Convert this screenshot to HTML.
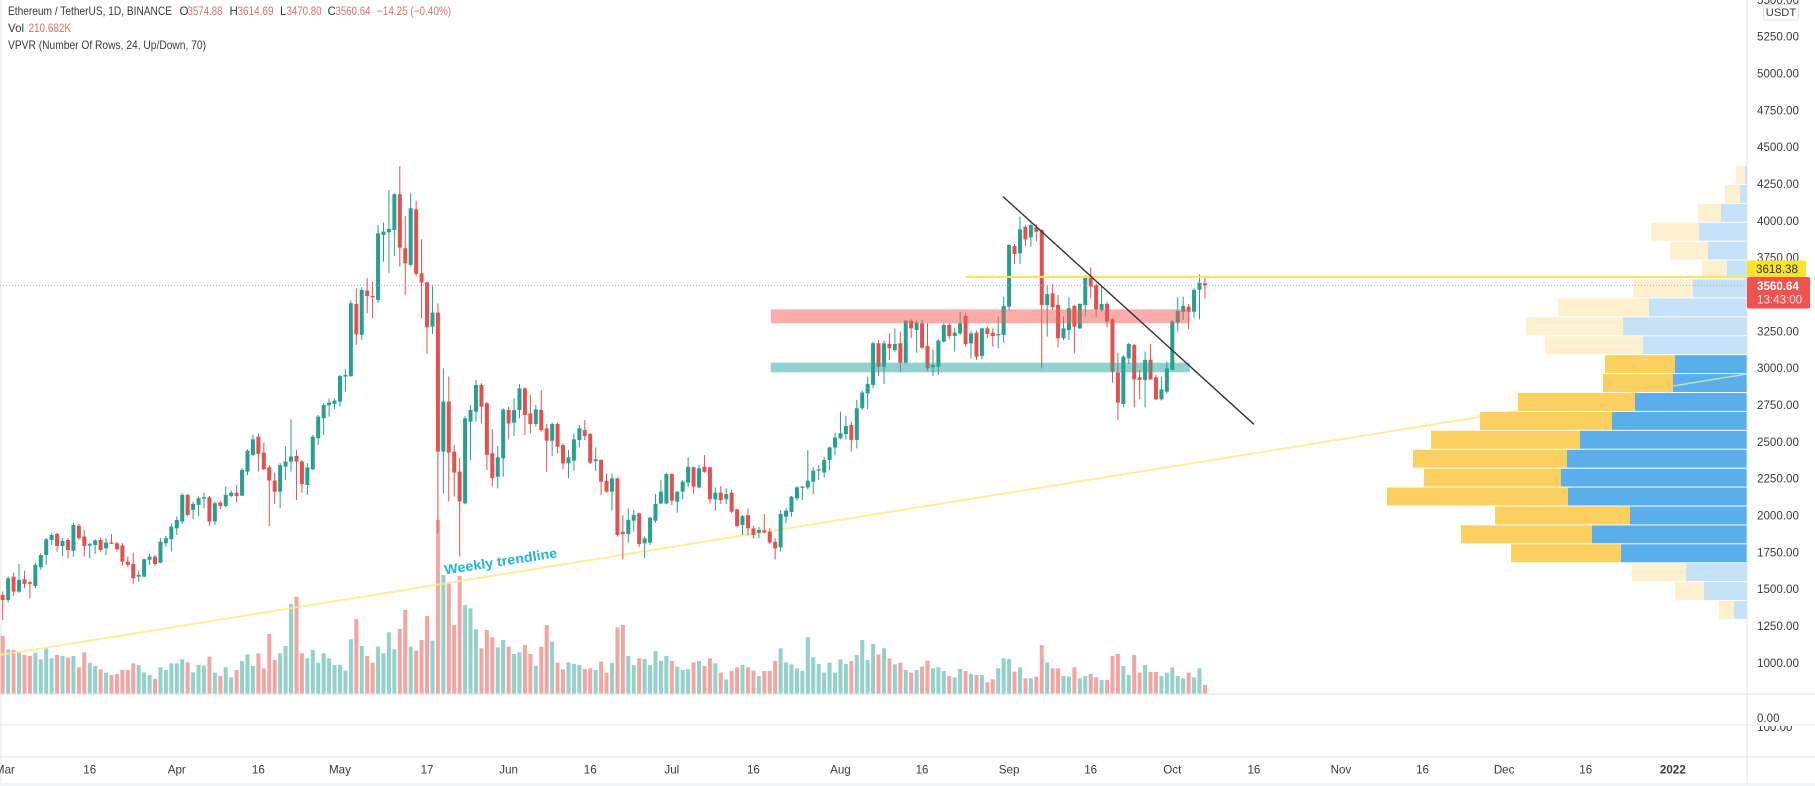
<!DOCTYPE html>
<html lang="en">
<head>
<meta charset="utf-8">
<title>Ethereum / TetherUS 1D chart</title>
<style>
html,body{margin:0;padding:0;background:#fff;width:1815px;height:786px;overflow:hidden}
svg{display:block;font-family:"Liberation Sans",sans-serif}
.ax{font-size:11.6px;fill:#3a3a3a}
.lg{font-size:11.6px;fill:#3a3a3a}
.rd{font-size:11.6px;fill:#d9706c}
</style>
</head>
<body>
<svg id="chart" xmlns="http://www.w3.org/2000/svg" width="1815" height="786" viewBox="0 0 1815 786">
  <defs>
    <clipPath id="clip-plot"><rect x="0" y="0" width="1747" height="694"/></clipPath>
    <clipPath id="clip-vol-axis"><rect x="1748" y="726" width="67" height="30"/></clipPath>
    <clipPath id="clip-top-axis"><rect x="1748" y="0" width="67" height="786"/></clipPath>
  </defs>
  <rect x="0" y="0" width="1815" height="786" fill="#ffffff"/>
  <rect x="0" y="0" width="1.5" height="786" fill="#efefef"/>
  <rect x="0" y="783" width="1815" height="3" fill="#f2f3f5"/>

  <g id="volume-layer"></g>
  <g id="vpvr-layer"></g>
  <g id="candle-layer" clip-path="url(#clip-plot)"></g>
  <g id="drawing-layer" clip-path="url(#clip-plot)"></g>

  <line x1="1747" y1="0" x2="1747" y2="783" stroke="#e0e3eb" stroke-width="1"/>
  <line x1="0" y1="694" x2="1815" y2="694" stroke="#e0e3eb" stroke-width="1"/>
  <line x1="0" y1="725" x2="1815" y2="725" stroke="#e6e8ee" stroke-width="1"/>
  <line x1="0" y1="757" x2="1815" y2="757" stroke="#e0e3eb" stroke-width="1"/>

  <g id="price-axis" clip-path="url(#clip-top-axis)"></g>
  <g id="time-axis"></g>

  <text class="ax" x="1757" y="722">0.00</text>
  <text class="ax" x="1757" y="731" clip-path="url(#clip-vol-axis)">100.00</text>

  <g>
    <rect x="1763.5" y="4.5" width="35" height="15.5" rx="2" fill="#fff" stroke="#dfe1e6"/>
    <text x="1781" y="16" text-anchor="middle" font-size="11.2" fill="#3a3a3a">USDT</text>
  </g>

  <g>
    <rect x="1747" y="260.5" width="59" height="16.5" rx="1.5" fill="#fbe22d"/>
    <text x="1777" y="272.8" text-anchor="middle" font-size="11.6" fill="#333">3618.38</text>
  </g>
  <g>
    <rect x="1747" y="277" width="63" height="31.5" rx="2" fill="#ef5350"/>
    <text x="1757" y="289.8" font-size="11.6" font-weight="bold" fill="#fff">3560.64</text>
    <text x="1757" y="303.6" font-size="11.6" fill="#ffe3e2">13:43:00</text>
  </g>

  <g>
    <text class="lg" x="8" y="15" textLength="164" lengthAdjust="spacingAndGlyphs">Ethereum / TetherUS, 1D, BINANCE</text>
    <text class="lg" x="179.5" y="15">O</text>
    <text class="rd" x="187.5" y="15" textLength="35" lengthAdjust="spacingAndGlyphs">3574.88</text>
    <text class="lg" x="229.5" y="15">H</text>
    <text class="rd" x="237.5" y="15" textLength="36" lengthAdjust="spacingAndGlyphs">3614.69</text>
    <text class="lg" x="280" y="15">L</text>
    <text class="rd" x="286.5" y="15" textLength="35" lengthAdjust="spacingAndGlyphs">3470.80</text>
    <text class="lg" x="327.5" y="15">C</text>
    <text class="rd" x="335.5" y="15" textLength="35" lengthAdjust="spacingAndGlyphs">3560.64</text>
    <text class="rd" x="377" y="15" textLength="74" lengthAdjust="spacingAndGlyphs">−14.25 (−0.40%)</text>
    <text class="lg" x="8" y="32">Vol</text>
    <text class="rd" x="28.5" y="32" textLength="42.5" lengthAdjust="spacingAndGlyphs">210.682K</text>
    <text class="lg" x="8" y="49" textLength="198" lengthAdjust="spacingAndGlyphs">VPVR (Number Of Rows, 24, Up/Down, 70)</text>
  </g>
</svg>

<script>
var opens = [1460,1426,1584,1483,1566,1546,1521,1648,1731,1833,
1874,1792,1833,1759,1930,1856,1795,1799,1833,1777,
1815,1811,1795,1686,1670,1584,1584,1698,1720,1679,
1811,1838,1912,1958,2139,2037,2071,2114,2123,1958,
2087,2064,2132,2154,2134,2297,2410,2534,2426,2326,
2236,2161,2331,2365,2403,2365,2206,2313,2523,2659,
2747,2756,2772,2942,2946,3435,3225,3525,3489,3462,
3903,3921,3937,4179,3813,3700,4077,3643,3582,3281,
3376,2433,2772,2433,2297,2082,2636,2704,2885,2761,
2422,2262,2387,2715,2629,2715,2862,2692,2620,2715,
2590,2507,2620,2477,2353,2371,2511,2579,2552,2367,
2376,2235,2161,2251,1889,1873,1964,2014,1810,1815,
1964,2081,2081,2281,2093,2161,2222,2326,2190,2330,
2326,2109,2154,2109,2154,2041,1934,2002,1912,1882,
1898,1889,1821,1783,1991,2023,2115,2190,2190,2229,
2303,2290,2376,2461,2523,2552,2613,2512,2727,2828,
2885,3168,3009,3163,3122,3168,3036,3321,3258,3303,
3150,3005,3009,3179,3292,3217,3235,3353,3168,3240,
3082,3269,3240,3222,3224,3416,3828,3778,3959,3887,
3953,3937,3428,3507,3428,3202,3258,3421,3269,3428,
3615,3563,3394,3435,3330,2969,2756,3066,3156,2937,
2919,3055,2937,2788,2840,2987,3308,3382,3416,3382,
3530,3574.88];

var highs = [1483,1584,1612,1670,1625,1555,1679,1743,1847,1878,
1883,1845,1845,1951,1942,1901,1815,1838,1851,1845,
1874,1820,1811,1720,1747,1625,1709,1738,1731,1845,
1860,1946,1992,2150,2145,2093,2127,2154,2132,2093,
2100,2195,2168,2206,2320,2448,2546,2557,2494,2342,
2290,2354,2467,2652,2444,2376,2354,2546,2681,2761,
2795,2795,2953,2992,3458,3541,3548,3609,3587,3971,
3987,4209,4186,4371,4032,4186,4136,3874,3587,3564,
3439,2998,2942,2478,2388,2675,2750,2919,2897,2772,
2584,2471,2726,2737,2794,2891,2869,2817,2749,2851,
2620,2629,2629,2489,2443,2556,2613,2647,2561,2461,
2380,2285,2285,2258,2002,2048,2036,2018,1855,1991,
2145,2240,2290,2285,2165,2240,2394,2330,2342,2409,
2330,2190,2199,2183,2172,2045,2002,2048,1928,1923,
2009,1912,1844,2036,2048,2131,2199,2199,2443,2326,
2342,2398,2466,2561,2704,2674,2636,2783,2846,2941,
3179,3190,3186,3235,3269,3247,3326,3330,3321,3326,
3303,3127,3195,3303,3303,3276,3382,3371,3254,3254,
3274,3281,3269,3349,3484,3842,3842,4027,3971,3982,
3977,3941,3563,3570,3496,3349,3480,3428,3438,3631,
3683,3575,3552,3450,3337,3104,3088,3172,3163,2987,
3111,3163,2953,2941,3043,3326,3480,3484,3435,3541,
3636,3614.69];

var lows = [1290,1408,1453,1476,1505,1437,1505,1630,1664,1799,
1754,1725,1709,1720,1833,1720,1709,1738,1754,1731,
1806,1754,1657,1648,1535,1550,1580,1664,1657,1675,
1788,1754,1867,1942,1996,1973,1996,2048,1928,1935,
2041,2055,2123,2087,2132,2274,2403,2297,2308,1928,
2078,2048,2240,2297,2105,2154,2139,2308,2478,2546,
2670,2720,2738,2840,2940,3157,3191,3372,3338,3439,
3722,3643,3761,3688,3496,3688,3625,3338,3096,3231,
1879,2150,2094,2127,1720,2075,2376,2636,2625,2308,
2195,2183,2262,2516,2538,2658,2545,2556,2602,2568,
2296,2403,2421,2312,2251,2303,2461,2511,2348,2303,
2138,2154,2032,1855,1701,1815,1889,1787,1708,1799,
1950,2077,2075,2070,2018,2109,2190,2149,2183,2290,
2081,2032,2077,2077,2014,1919,1867,1867,1844,1844,
1878,1806,1701,1753,1946,1991,2100,2104,2176,2145,
2240,2258,2308,2409,2516,2516,2432,2455,2715,2720,
2862,2946,2892,3055,3111,2975,3032,3202,3104,3127,
2982,2946,2953,3172,3195,3111,3224,3145,3066,3055,
3059,3202,3145,3134,3172,3389,3706,3706,3828,3824,
3858,2998,3213,3394,3140,3190,3190,3100,3265,3349,
3473,3344,3382,3276,2901,2647,2733,3027,2733,2788,
2733,2919,2783,2779,2828,2982,3247,3326,3263,3337,
3330,3470.80];

var closes = [1426,1573,1483,1562,1535,1535,1664,1731,1838,1867,
1792,1826,1765,1935,1845,1792,1806,1829,1765,1815,
1811,1770,1686,1664,1573,1596,1702,1720,1670,1822,
1845,1924,1969,2139,2003,2078,2116,2123,1958,2082,
2064,2139,2154,2132,2308,2439,2516,2417,2313,2236,
2161,2342,2365,2399,2365,2213,2326,2534,2670,2749,
2765,2779,2946,2953,3439,3229,3530,3489,3480,3914,
3926,3944,4179,3817,3711,4084,3639,3580,3277,3376,
2433,2772,2426,2290,2094,2659,2716,2885,2738,2410,
2252,2394,2719,2624,2715,2862,2681,2620,2719,2579,
2507,2620,2466,2353,2394,2516,2590,2538,2357,2380,
2229,2161,2251,1867,1873,1968,2002,1805,1844,1984,
2077,2161,2281,2100,2161,2229,2330,2195,2319,2296,
2109,2154,2104,2145,2025,1928,1995,1912,1867,1901,
1885,1815,1776,2009,2032,2127,2190,2195,2235,2303,
2312,2376,2461,2529,2557,2607,2512,2727,2833,2892,
3168,3009,3168,3134,3163,3036,3321,3269,3308,3138,
2998,3021,3186,3292,3217,3240,3303,3163,3235,3077,
3269,3231,3217,3231,3421,3835,3774,3941,3873,3971,
3925,3428,3502,3412,3202,3269,3405,3281,3435,3615,
3552,3398,3435,3315,2975,2765,3077,3163,2923,2919,
3055,2923,2788,2855,2998,3315,3389,3421,3382,3530,
3579,3560.64];

var volumes = [1357,1045,1030,991,913,889,967,811,1069,835,
913,889,850,889,624,975,733,655,577,499,
445,468,562,562,718,679,507,445,351,624,
562,718,718,811,741,507,679,663,874,499,
421,624,390,562,772,928,655,952,601,1404,
796,952,1123,2106,2278,952,835,1030,733,952,
835,679,679,546,1279,1755,1123,889,733,1108,
952,1443,1045,1521,1966,1108,1014,1264,1825,1248,
4072,2785,2590,1615,2761,2083,2005,1513,1069,1498,
1326,1092,1264,1108,936,975,1147,936,655,1108,
1615,1225,733,577,741,702,679,585,601,562,
757,499,733,1560,1615,889,679,835,819,679,
1006,780,889,772,640,562,577,741,772,655,
835,718,499,343,538,624,679,624,546,421,
538,538,772,1069,741,694,601,538,1326,858,
702,499,733,499,811,702,772,913,1264,796,
1170,928,1069,835,694,733,562,499,562,640,
780,601,624,538,421,390,585,538,468,445,
445,273,343,601,835,819,523,624,367,367,
406,1147,741,601,601,421,406,624,367,421,
468,390,328,328,889,936,655,445,913,499,
679,515,515,421,499,624,421,367,499,390,
601,210.682];

var priceTicks = [5500,5250,5000,4750,4500,4250,4000,3750,3250,3000,2750,2500,2250,2000,1750,1500,1250,1000];
var timeTickLabels = ["Mar","16","Apr","16","May","17","Jun","16","Jul","16","Aug","16","Sep","16","Oct","16","Nov","16","Dec","16","2022"];
var timeTickDays = [0.4,16,32,47,62,78,93,108,123,138,154,169,185,200,215,230,246,261,276,291,307];

var vpvrUp = [2,7,26,48,39,20,54,98,124,104,72,74,112,135,167,180,186,179,117,155,126,61,43,13];
var vpvrDown = [9,15,23,48,38,25,60,91,97,98,70,70,117,132,149,154,137,181,135,131,110,54,29,15];
var vpvrValueAreaFirst = 10;
var vpvrValueAreaLast = 20;

var levelPrice = 3618.38;
var lastPrice = 3560.64;
var levelStartDay = 177;
var resistanceZone = [141.2, 218.2, 3398, 3303];
var supportZone = [141.2, 218.2, 3036, 2971];
var weeklyTrend = [-0.5, 1052, 320.6, 2959];
var weeklyTrendTopDay = 307;
var downTrend = [183.9, 4163, 230, 2618];

var PLOT_RIGHT = 1747;
var VOL_BASE = 694;
var GREEN = "#2a9f91", RED = "#e0524f", VGREEN = "#93d1ca", VRED = "#f2a6a4";
var NS = "http://www.w3.org/2000/svg";

function xDay(d) { return 2.7 + 5.44 * d; }
function yPrice(p) { return 662.7 - (p - 1000) * 0.14734; }
function yVol(v) { return VOL_BASE - v / 23.4; }
function xProfile(v) { return PLOT_RIGHT - v; }

function mk(tag, parent, attrs) {
  var e = document.createElementNS(NS, tag);
  for (var k in attrs) e.setAttribute(k, attrs[k]);
  parent.appendChild(e);
  return e;
}

var volLayer = document.getElementById("volume-layer");
volumes.forEach(function (v, i) {
  var up = closes[i] >= opens[i];
  var top = yVol(v);
  var el = mk("rect", volLayer, {x: xDay(i) - 2, y: top, width: 4, height: VOL_BASE - top, fill: up ? VGREEN : VRED});
  
  
});

var candleLayer = document.getElementById("candle-layer");
opens.forEach(function (o, i) {
  var c = closes[i];
  var col = c >= o ? GREEN : RED;
  var g = mk("g", candleLayer, {});
  
  
  var wick = mk("line", g, {x1: xDay(i), x2: xDay(i), y1: yPrice(highs[i]), y2: yPrice(lows[i]), stroke: col, "stroke-width": 1});
  
  
  var top = yPrice(Math.max(o, c));
  var h = Math.max(1.2, yPrice(Math.min(o, c)) - top);
  var body = mk("rect", g, {x: xDay(i) - 2, y: top, width: 4, height: h, fill: col});
  
  
});

var vpLayer = document.getElementById("vpvr-layer");
var rangeHigh = Math.max.apply(null, highs);
var rangeLow = Math.min.apply(null, lows);
var rowStep = (rangeHigh - rangeLow) / vpvrUp.length;
vpvrUp.forEach(function (u, i) {
  var d = vpvrDown[i];
  var solid = i >= vpvrValueAreaFirst && i <= vpvrValueAreaLast;
  var t = yPrice(rangeHigh - rowStep * i);
  var b = yPrice(rangeHigh - rowStep * (i + 1));
  var h = b - t - 1;
  var blue = mk("rect", vpLayer, {x: xProfile(u), y: t, width: u, height: h, fill: solid ? "#5aaee9" : "#c6e2f8"});
  
  
  var amber = mk("rect", vpLayer, {x: xProfile(u + d), y: t, width: d, height: h, fill: solid ? "#fbd05f" : "#fdf0cf"});
  
  
});

var dr = document.getElementById("drawing-layer");
var wl = mk("line", dr, {x1: xDay(weeklyTrend[0]), y1: yPrice(weeklyTrend[1]), x2: xDay(weeklyTrend[2]), y2: yPrice(weeklyTrend[3]), stroke: "#fbec8e", "stroke-width": 2, "stroke-opacity": 0.85});


// hide the weekly line where it runs behind the profile
vpLayer.parentNode.insertBefore(wl, vpLayer);
var topFrac = (weeklyTrendTopDay - weeklyTrend[0]) / (weeklyTrend[2] - weeklyTrend[0]);
var topPrice = weeklyTrend[1] + (weeklyTrend[3] - weeklyTrend[1]) * topFrac;
var wl2 = mk("line", dr, {x1: xDay(weeklyTrendTopDay), y1: yPrice(topPrice), x2: xDay(weeklyTrend[2]), y2: yPrice(weeklyTrend[3]), stroke: "#b6e6b8", "stroke-width": 1.5});



function zone(z, fill, name) {
  var el = mk("rect", dr, {x: xDay(z[0]), y: yPrice(z[2]), width: xDay(z[1]) - xDay(z[0]), height: yPrice(z[3]) - yPrice(z[2]), fill: fill});
  return el;
}
var rz = zone(resistanceZone, "rgba(244,90,85,0.5)");


var sz = zone(supportZone, "rgba(38,166,154,0.5)");



var lp = mk("line", dr, {x1: 0, x2: PLOT_RIGHT, y1: yPrice(lastPrice), y2: yPrice(lastPrice), stroke: "#cf9fb4", "stroke-width": 1, "stroke-dasharray": "1 2"});



var lv = mk("line", dr, {x1: xDay(levelStartDay), x2: PLOT_RIGHT, y1: yPrice(levelPrice), y2: yPrice(levelPrice), stroke: "#f9e64f", "stroke-width": 2});



var dt = mk("line", dr, {x1: xDay(downTrend[0]), y1: yPrice(downTrend[1]), x2: xDay(downTrend[2]), y2: yPrice(downTrend[3]), stroke: "#333", "stroke-width": 1.4});



var lab = mk("text", dr, {x: 445, y: 574.5, transform: "rotate(-8.7 445 574.5)", "font-size": 13.5, "font-weight": "bold", fill: "#22b7cf", textLength: 114, lengthAdjust: "spacingAndGlyphs"});
lab.textContent = "Weekly trendline";



var pa = document.getElementById("price-axis");
priceTicks.forEach(function (p) {
  var t = mk("text", pa, {"class": "ax", x: 1757, y: yPrice(p) + 4.2});
  t.textContent = p.toFixed(2);
  
  
});

var ta = document.getElementById("time-axis");
timeTickLabels.forEach(function (s, i) {
  var attrs = {"class": "ax", x: xDay(timeTickDays[i]), y: 773.5, "text-anchor": "middle"};
  if (s === "2022") attrs["font-weight"] = "bold";
  var t = mk("text", ta, attrs);
  t.textContent = s;
  
  
});
</script>
</body>
</html>
